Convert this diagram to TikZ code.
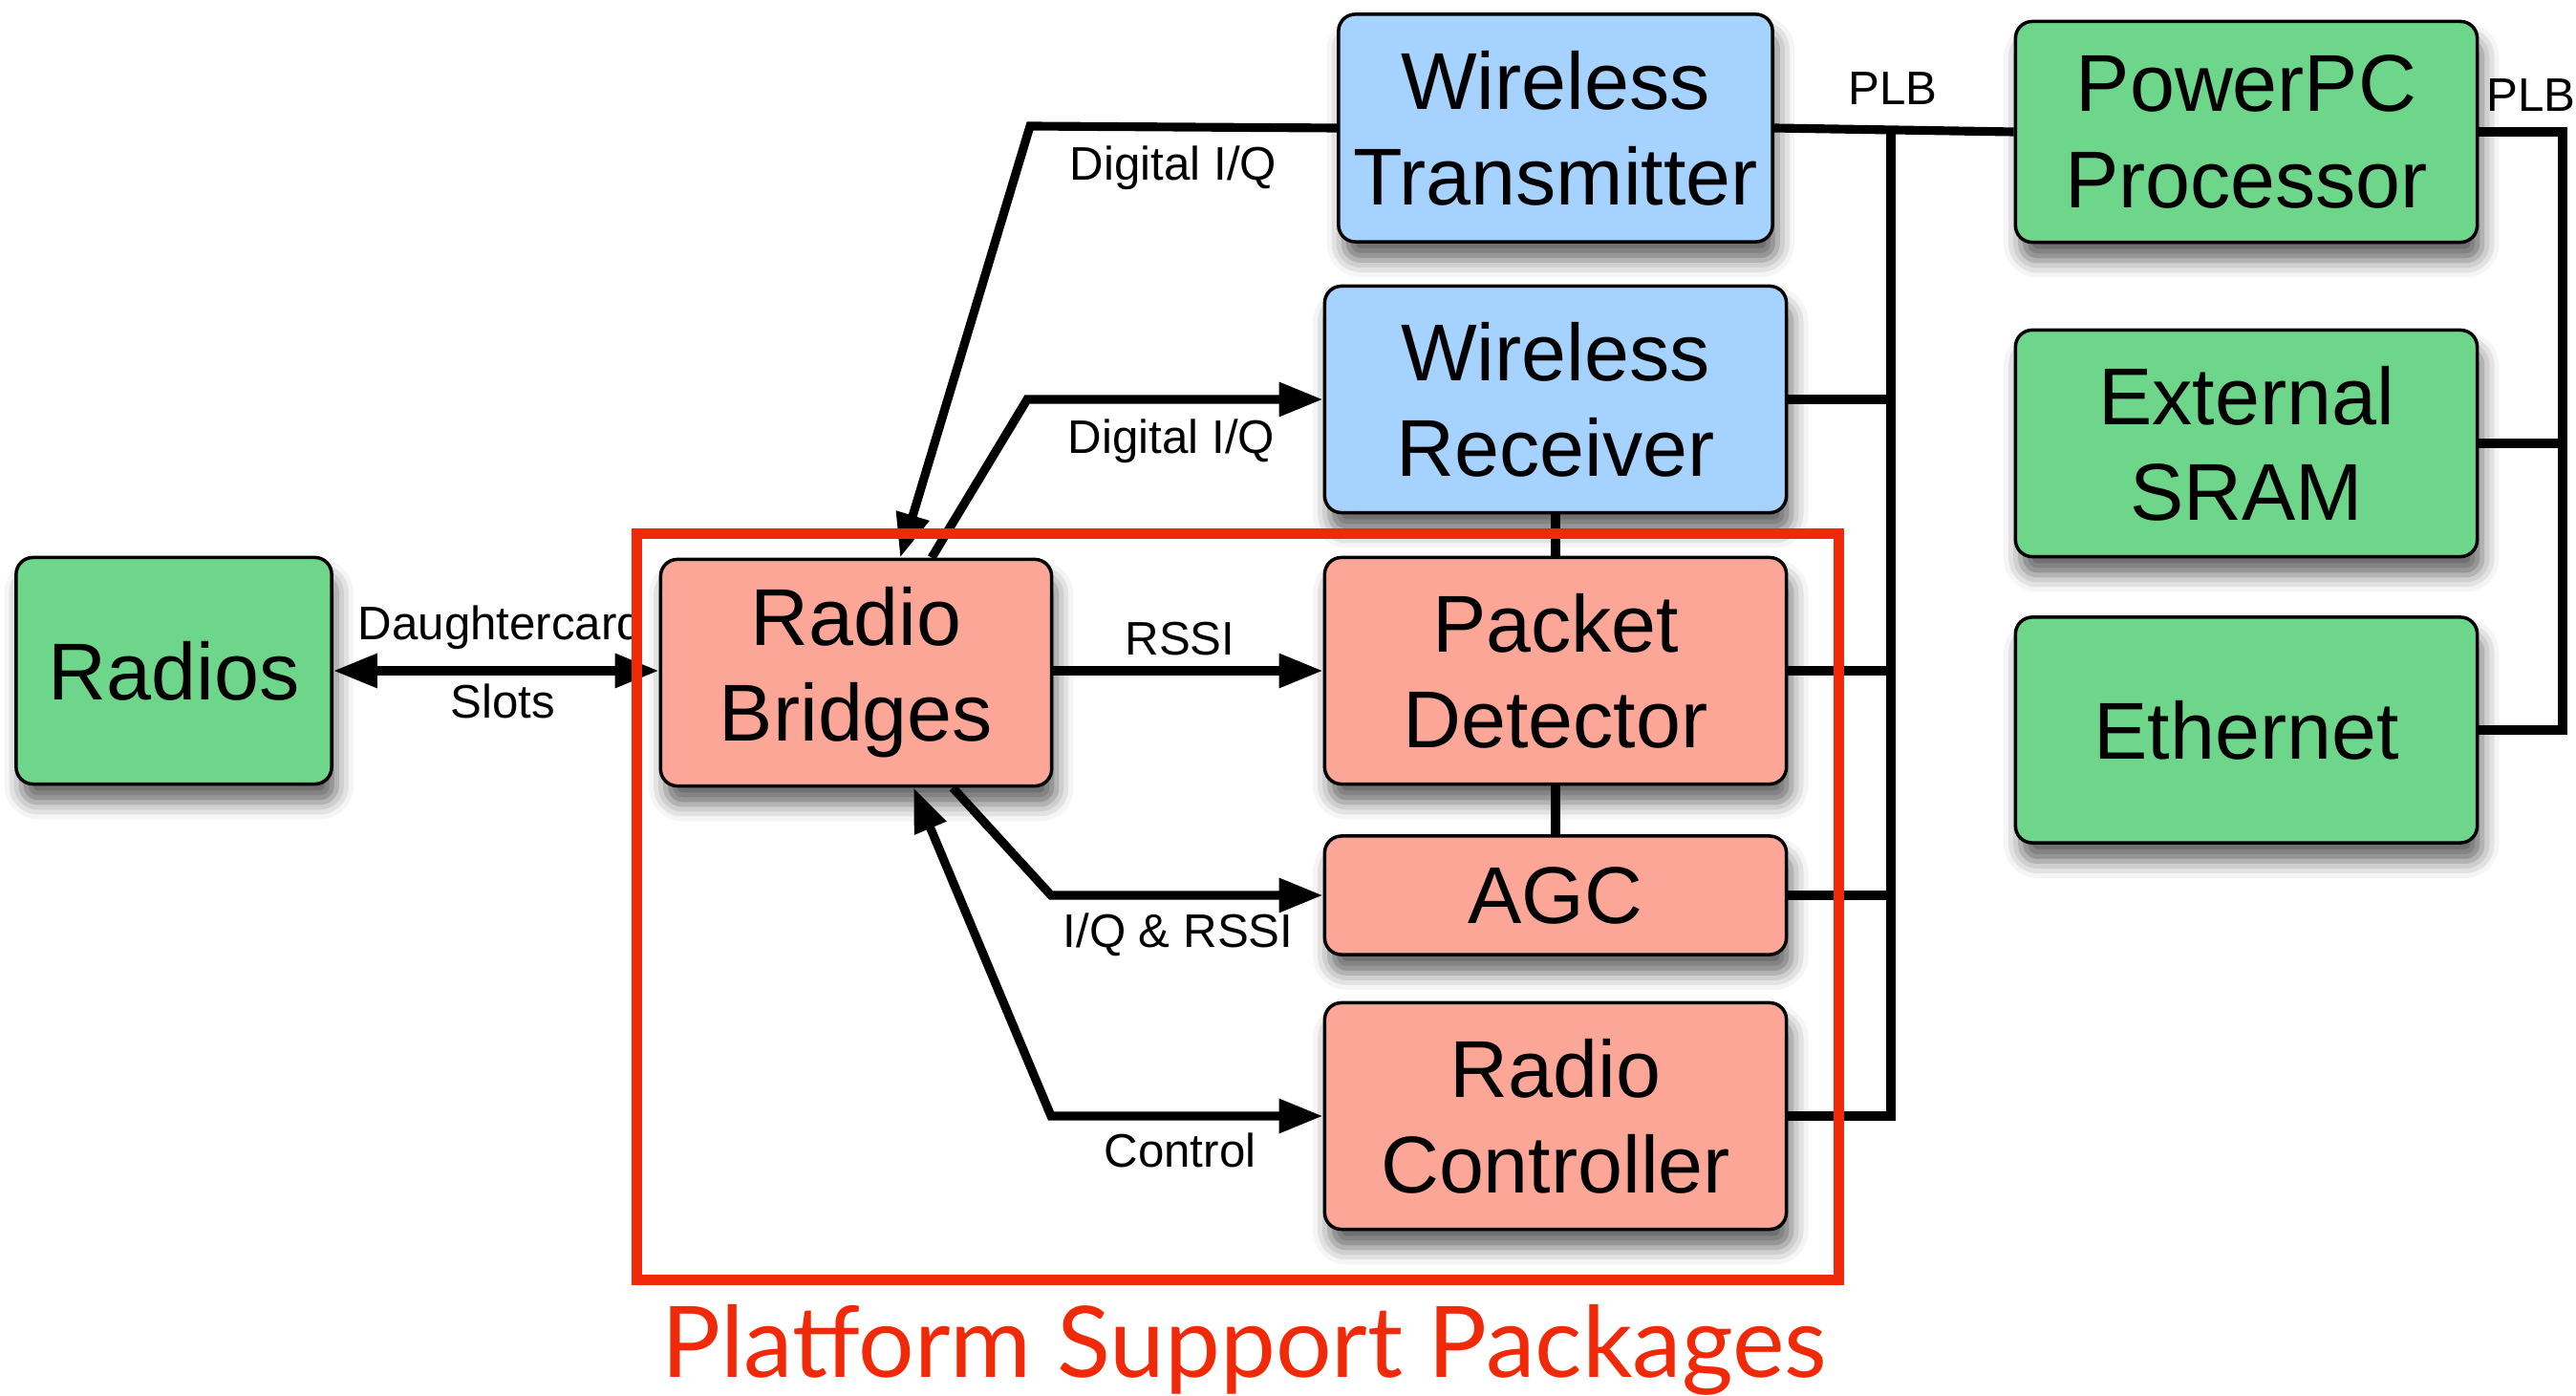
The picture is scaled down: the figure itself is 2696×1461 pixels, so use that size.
\documentclass[tikz,border=0pt]{standalone}
\usepackage{fontspec}
\setmainfont{Liberation Sans}
\newfontfamily\titlefont{Lato}
\usepackage{xcolor}
\usepackage{tikz}
\usetikzlibrary{arrows.meta, positioning, calc, shadows.blur}

\definecolor{hwgreen}{RGB}{110,214,138}
\definecolor{wlblue}{RGB}{166,210,255}
\definecolor{psppink}{RGB}{252,166,152}
\definecolor{pspred}{RGB}{240,42,8}

\begin{document}
\begin{tikzpicture}[
    x=0.01cm, y=-0.01cm,
    blk/.style={rectangle, draw, line width=1pt, rounded corners=5pt, align=center,
                font=\fontsize{24}{28.5}\selectfont, inner sep=0pt,
                blur shadow={shadow xshift=1.5pt, shadow yshift=-5.5pt,
                             shadow blur radius=5pt, shadow opacity=60}},
    hw/.style={blk, fill=hwgreen},
    wl/.style={blk, fill=wlblue},
    psp/.style={blk, fill=psppink},
    wire/.style={line width=2.6pt},
    >={Triangle[length=0.46cm, width=0.34cm]},
    arr/.style={wire, ->},
    lbl/.style={font=\fontsize{14}{16}\selectfont},
]
    \useasboundingbox (0,0) rectangle (2696,1461);

    % ── Blocks ──
    \node[hw, minimum width=3.3cm, minimum height=2.37cm] (radios) at (182,702) {Radios};
    \node[psp, minimum width=4.09cm, minimum height=2.37cm] (bridges) at (896,704) {Radio\\Bridges};

    \node[wl, minimum width=4.54cm, minimum height=2.38cm] (wtx) at (1628,134) {Wireless\\Transmitter};
    \node[wl, minimum width=4.83cm, minimum height=2.37cm] (wrx) at (1628,418) {Wireless\\Receiver};
    \node[psp, minimum width=4.83cm, minimum height=2.37cm] (pktdet) at (1628,702) {Packet\\Detector};
    \node[psp, minimum width=4.83cm, minimum height=1.24cm] (agc) at (1628,937) {AGC};
    \node[psp, minimum width=4.83cm, minimum height=2.37cm] (radctl) at (1628,1168) {Radio\\Controller};

    \node[hw, minimum width=4.83cm, minimum height=2.31cm] (ppc) at (2351,138) {PowerPC\\Processor};
    \node[hw, minimum width=4.83cm, minimum height=2.37cm] (sram) at (2351,464) {External\\SRAM};
    \node[hw, minimum width=4.83cm, minimum height=2.36cm] (eth) at (2351,764) {Ethernet};

    % ── Bus columns ──
    \coordinate (plbL) at (1979,0);
    \coordinate (plbR) at (2682,0);

    % ── Bridge links ──
    \draw[wire, <->] (radios.east) -- (bridges.west |- radios.east);
    \draw[arr] (wtx.west) -- (1078,132) -- ([xshift=0.46cm]bridges.north);
    \draw[arr] ([xshift=0.79cm]bridges.north) -- (1075,418) -- (wrx.west);
    \draw[arr] (bridges.east |- pktdet.west) -- (pktdet.west);
    \draw[arr] ([xshift=1.01cm]bridges.south) -- (1100,937) -- (agc.west);
    \draw[wire, <->] (radctl.west) -- (1100,1168) -- ([xshift=0.60cm]bridges.south);

    \draw[wire] (wrx.south) -- (pktdet.north);
    \draw[wire] (pktdet.south) -- (agc.north);

    % ── PLB ──
    \draw[wire] (wtx.east) -- (ppc.west);
    \draw[wire] (plbL |- wtx.east) -- (plbL |- radctl.east) -- (radctl.east);
    \draw[wire] (wrx.east) -- (wrx.east -| plbL);
    \draw[wire] (pktdet.east) -- (pktdet.east -| plbL);
    \draw[wire] (agc.east) -- (agc.east -| plbL);

    \draw[wire] (ppc.east) -- (ppc.east -| plbR) -- (plbR |- eth.east) -- (eth.east);
    \draw[wire] (sram.east) -- (sram.east -| plbR);

    % ── Labels ──
    \node[lbl] (lblDc) at (524,657) {Daughtercard};
    \node[lbl] (lblSlots) at (526,734) {Slots};
    \node[lbl] (lblTx) at (1228,176) {Digital I/Q};
    \node[lbl] (lblRx) at (1226,462) {Digital I/Q};
    \node[lbl] (lblRssi) at (1235,669) {RSSI};
    \node[lbl] (lblIq) at (1233,978) {I/Q \& RSSI};
    \node[lbl] (lblCtl) at (1235,1204) {Control};
    \node[lbl] (lblPlbL) at (1981,93) {PLB};
    \node[lbl] (lblPlbR) at (2649,100) {PLB};

    % ── Platform support packages ──
    \node[draw=pspred, line width=3.2pt, minimum width=12.57cm, minimum height=7.8cm,
          inner sep=0pt] (pspFrame) at (1295.5,949) {};
    \node[font=\titlefont\fontsize{29.4}{36}\selectfont, text=pspred, anchor=base]
        (pspTitle) at (1302,1441) {Platform Support Packages};
\end{tikzpicture}
\end{document}
